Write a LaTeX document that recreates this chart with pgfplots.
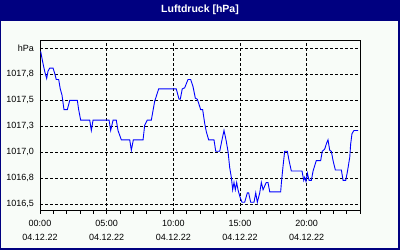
\documentclass[border=0pt]{standalone}
\usepackage{pgfplots}
\pgfplotsset{compat=1.18}
\usepackage{fontspec}
\setmainfont{Liberation Sans}
\definecolor{navy}{RGB}{0,0,128}
\definecolor{bgc}{RGB}{248,252,248}
\begin{document}
\begin{tikzpicture}[x=1bp,y=1bp]
\useasboundingbox (0,0) rectangle (400,250);
\fill[navy] (0,0) rectangle (400,250);
\fill[bgc] (1,2) rectangle (398,229.3);
\node[white,font=\fontsize{10.5bp}{12bp}\selectfont\bfseries] at (200,240) {Luftdruck [hPa]};
\begin{axis}[
  at={(40bp,39.3bp)}, anchor=south west, scale only axis,
  width=320bp, height=170.7bp,
  xmin=0, xmax=24, ymin=1016.4385, ymax=1018.08,
  axis line style={black, line width=0.8bp},
  every tick/.style={black, line width=0.8bp},
  xtick={0,5,10,15,20},
  minor xtick={1,2,3,4,6,7,8,9,11,12,13,14,16,17,18,19,21,22,23,24},
  xticklabels={{00:00\\04.12.22},{05:00\\04.12.22},{10:00\\04.12.22},{15:00\\04.12.22},{20:00\\04.12.22}},
  xticklabel style={align=center, font=\fontsize{9bp}{14bp}\selectfont, inner sep=0pt, anchor=north, yshift=-6.5bp},
  tick align=outside, xtick pos=bottom,
  major tick length=3bp, minor tick length=3bp,
  ytick={1016.5,1016.75,1017,1017.25,1017.5,1017.75,1018},
  yticklabels={{1016,5},{1016,8},{1017,0},{1017,3},{1017,5},{1017,8},{hPa}},
  yticklabel style={font=\fontsize{9bp}{11bp}\selectfont, anchor=east, inner sep=0pt, xshift=-3bp},
  ytick style={draw=none},
  ymajorgrids, xmajorgrids,
  major grid style={black, line width=0.8bp, dash pattern=on 3bp off 2bp},
  axis background/.style={fill=bgc},
]
\addplot[blue, line width=0.9bp] coordinates {
(0.05,1017.97) (0.20,1017.87) (0.35,1017.78) (0.50,1017.71) (0.60,1017.78) (0.73,1017.81)
(0.98,1017.81) (1.10,1017.76) (1.22,1017.70) (1.40,1017.70) (1.52,1017.61) (1.65,1017.55)
(1.80,1017.41) (2.05,1017.41) (2.23,1017.50) (2.80,1017.50) (2.90,1017.41) (3.05,1017.31)
(3.73,1017.31) (3.85,1017.21) (3.98,1017.31) (5.18,1017.31) (5.30,1017.21) (5.48,1017.31)
(5.72,1017.31) (5.85,1017.21) (6.10,1017.12) (6.73,1017.12) (6.85,1017.02) (7.00,1017.12)
(7.73,1017.12) (7.85,1017.26) (8.05,1017.31) (8.35,1017.31) (8.60,1017.49) (8.90,1017.61)
(10.22,1017.61) (10.43,1017.51) (10.52,1017.51) (10.67,1017.61) (10.85,1017.62) (11.10,1017.70)
(11.30,1017.70) (11.48,1017.63) (11.65,1017.52) (11.80,1017.51) (11.98,1017.44) (12.05,1017.41)
(12.20,1017.41) (12.35,1017.28) (12.47,1017.20) (12.65,1017.12) (13.05,1017.12) (13.18,1017.01)
(13.48,1017.01) (13.65,1017.12) (13.80,1017.21) (13.95,1017.12) (14.10,1017.01) (14.23,1016.85)
(14.35,1016.76) (14.45,1016.64) (14.55,1016.71) (14.65,1016.64) (14.75,1016.71) (14.85,1016.64)
(15.00,1016.57) (15.15,1016.52) (15.35,1016.52) (15.55,1016.61) (15.65,1016.61) (15.80,1016.52)
(16.05,1016.52) (16.18,1016.61) (16.30,1016.52) (16.48,1016.61) (16.60,1016.71) (16.73,1016.64)
(16.97,1016.71) (17.10,1016.71) (17.23,1016.62) (18.05,1016.62) (18.10,1016.70) (18.23,1016.87)
(18.35,1017.01) (18.55,1017.01) (18.68,1016.92) (18.85,1016.82) (19.65,1016.82) (19.78,1016.73)
(19.85,1016.76) (19.95,1016.72) (20.05,1016.80) (20.18,1016.73) (20.35,1016.73) (20.48,1016.82)
(20.60,1016.87) (20.72,1016.92) (21.05,1016.92) (21.17,1017.01) (21.35,1017.03) (21.50,1017.09)
(21.60,1017.12) (21.73,1017.02) (21.85,1017.01) (21.98,1016.92) (22.15,1016.83) (22.60,1016.83)
(22.73,1016.73) (22.93,1016.73) (23.05,1016.81) (23.23,1016.95) (23.30,1017.08) (23.40,1017.18)
(23.55,1017.21) (23.85,1017.21)
};
\end{axis}
\end{tikzpicture}
\end{document}
